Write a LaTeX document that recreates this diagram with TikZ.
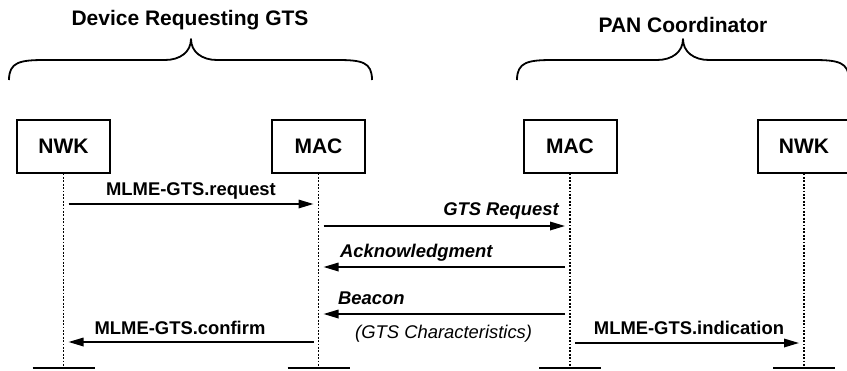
\documentclass[tikz,border=0pt]{standalone}
\usepackage{fontspec}
\setmainfont{Liberation Sans}
\usepackage{tikz}
\usetikzlibrary{arrows.meta}

\begin{document}
\begin{tikzpicture}[x=1pt, y=-1pt,
    layer/.style={draw, line width=2pt, minimum width=93pt, minimum height=53pt, inner sep=0pt,
      font=\fontsize{21}{24}\selectfont\bfseries},
    life/.style={line width=1.8pt, dash pattern=on 1.8pt off 1.6pt},
    bar/.style={line width=2pt},
    msg/.style={line width=1.7pt, shorten <=5pt, shorten >=5pt, -{Triangle[length=15pt, width=8.5pt]}},
    lbl/.style={inner sep=0pt, font=\fontsize{18.4}{20}\selectfont\bfseries},
    head/.style={inner sep=0pt, font=\fontsize{21}{24}\selectfont\bfseries},
    brace/.style={line width=1.8pt, line join=round}]
      \useasboundingbox (0,0) rectangle (847,370);

      % groups
      \node[head, anchor=base] (devtitle) at (190,25) {Device Requesting GTS};
      \node[head, anchor=base] (pantitle) at (683,32) {PAN Coordinator};
      \draw[brace] (9,80) .. controls (9,62) and (20,60) .. (45,60) -- (165,60)
        .. controls (180,60) and (191,52) .. (191,39) .. controls (191,52) and (202,60) .. (217,60)
        -- (337,60) .. controls (362,60) and (372,62) .. (372,80);
      \draw[brace] (517,80) .. controls (517,62) and (528,60) .. (553,60) -- (657,60)
        .. controls (672,60) and (683,52) .. (683,39) .. controls (683,52) and (694,60) .. (709,60)
        -- (813,60) .. controls (838,60) and (849,62) .. (849,80);

      % layers and lifelines
      \foreach \n/\x/\t in {nwkA/63.5/NWK, macA/318.5/MAC, macB/570/MAC, nwkB/804/NWK} {
        \node[layer] (\n) at (\x,146) {\t};
        \coordinate (\n-end) at (\n.south |- 0,368);
        \draw[life] (\n.south) -- (\n-end);
        \draw[bar] ([xshift=-31pt]\n-end) -- ([xshift=31pt]\n-end);
      }

      % messages
      \foreach \a/\b/\y in {nwkA/macA/204, macA/macB/226, macB/macA/267, macB/macA/314, macA/nwkA/342, macB/nwkB/343} {
        \draw[msg] (\a |- 0,\y) -- (\b |- 0,\y);
      }
      \node[lbl, anchor=base] (reqlbl) at (191,195) {MLME-GTS.request};
      \node[lbl, anchor=base east] (gtsreqlbl) at (559,215) {\itshape GTS Request};
      \node[lbl, anchor=base west] (acklbl) at (340,257) {\itshape Acknowledgment};
      \node[lbl, anchor=base west] (beaconlbl) at (338,304) {\itshape Beacon};
      \node[lbl, anchor=base west, font=\fontsize{18.4}{20}\selectfont\itshape] (charlbl) at (355,338) {(GTS Characteristics)};
      \node[lbl, anchor=base] (conflbl) at (180,334) {MLME-GTS.confirm};
      \node[lbl, anchor=base] (indlbl) at (689,334) {MLME-GTS.indication};
    \end{tikzpicture}
\end{document}
